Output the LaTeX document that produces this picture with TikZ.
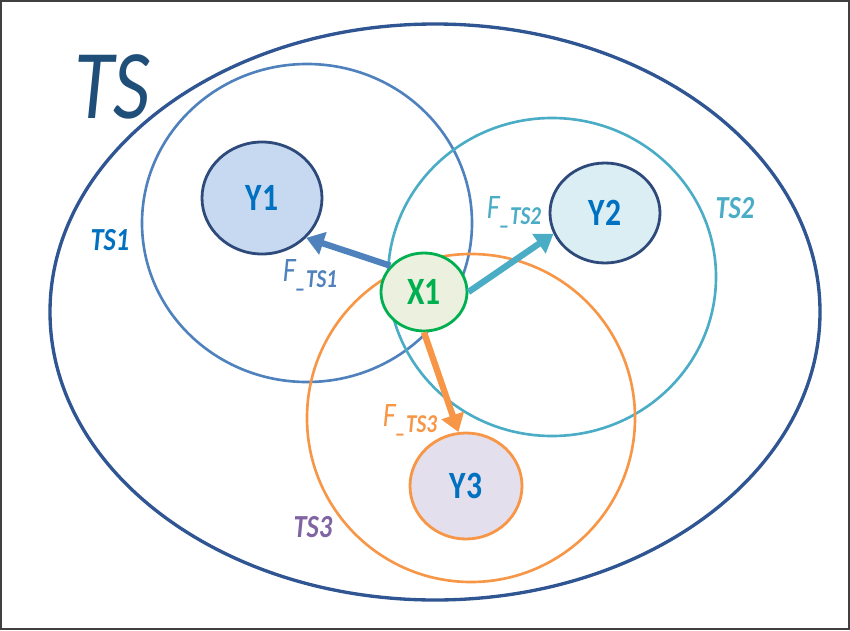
\documentclass[tikz,border=0pt]{standalone}
\usepackage{fontspec}
\setmainfont{Carlito}
\usetikzlibrary{shapes.geometric,arrows.meta}

\definecolor{tsnavy}{HTML}{2F5592}
\definecolor{tstext}{HTML}{1F4E79}
\definecolor{ynavy}{HTML}{2E4A7A}
\definecolor{tsblue}{HTML}{4F81BD}
\definecolor{tsteal}{HTML}{4BACC6}
\definecolor{tsorange}{HTML}{F79646}
\definecolor{tspurple}{HTML}{8064A2}
\definecolor{ytext}{HTML}{0070C0}
\definecolor{xgreen}{HTML}{00B050}
\definecolor{yonefill}{HTML}{C6D9F1}
\definecolor{ytwofill}{HTML}{DAEEF3}
\definecolor{ythreefill}{HTML}{E4DFEC}
\definecolor{xonefill}{HTML}{EBF1DE}

\newcommand{\tall}[1]{\scalebox{1}[1.22]{#1}}
\newcommand{\flowname}[1]{\tall{F\raisebox{-0.35ex}{\fontsize{12}{14}\selectfont\bfseries\_#1}}}

\begin{document}
\begin{tikzpicture}[
        setring/.style={draw, ellipse, line width=1.5pt, inner sep=0pt},
        varnode/.style={draw, ellipse, line width=1.6pt, inner sep=0pt,
            font=\fontsize{18}{20}\selectfont\bfseries, text=ytext},
        flow/.style={line width=3.6pt, -{Triangle[length=10pt, width=13pt]}},
        flowlbl/.style={font=\fontsize{16}{18}\selectfont\itshape}
    ]
        \useasboundingbox (0, 0) rectangle (17, 12.6);
        \draw[line width=1.2pt, black!75] (0.02, 0.02) rectangle (16.98, 12.58);

        % the sets
        \node[setring, tsnavy, line width=1.9pt, minimum width=15.4cm, minimum height=11.52cm] (ts) at (8.7, 6.36) {};
        \node[setring, tsblue, minimum width=6.6cm, minimum height=6.36cm] (ts1) at (6.14, 8.14) {};
        \node[setring, tsteal, minimum width=6.56cm, minimum height=6.36cm] (ts2) at (11.04, 7.06) {};
        \node[setring, tsorange, minimum width=6.56cm, minimum height=6.56cm] (ts3) at (9.42, 4.24) {};

        \node[text=tstext, font=\fontsize{46}{50}\selectfont\itshape] (tslbl) at (2.24, 10.86) {\tall{TS}};
        \node[text=ytext, font=\fontsize{15}{17}\selectfont\bfseries\itshape] (ts1lbl) at (2.2, 7.8) {\tall{TS1}};
        \node[text=tsteal, font=\fontsize{15}{17}\selectfont\bfseries\itshape] (ts2lbl) at (14.7, 8.44) {\tall{TS2}};
        \node[text=tspurple, font=\fontsize{15}{17}\selectfont\bfseries\itshape] (ts3lbl) at (6.26, 2.06) {\tall{TS3}};

        % targets and source
        \node[varnode, draw=ynavy, fill=yonefill, minimum width=2.4cm, minimum height=2.24cm] (y1) at (5.24, 8.64) {\tall{Y1}};
        \node[varnode, draw=ynavy, fill=ytwofill, minimum width=2.2cm, minimum height=2cm] (y2) at (12.1, 8.34) {\tall{Y2}};
        \node[varnode, draw=tsorange, fill=ythreefill, minimum width=2.24cm, minimum height=2.12cm] (y3) at (9.32, 2.88) {\tall{Y3}};
        \node[varnode, draw=xgreen, text=xgreen, fill=xonefill, minimum width=1.72cm, minimum height=1.56cm] (x1) at (8.48, 6.76) {\tall{X1}};

        \draw[flow, tsblue] (x1.142) -- (y1.-42);
        \draw[flow, tsteal] (x1.east) -- (y2.202);
        \draw[flow, tsorange] (x1.south) -- (y3.98);

        \node[flowlbl, text=tsblue] (f1) at (6.2, 7.1) {\flowname{TS1}};
        \node[flowlbl, text=tsteal] (f2) at (10.28, 8.36) {\flowname{TS2}};
        \node[flowlbl, text=tsorange] (f3) at (8.2, 4.2) {\flowname{TS3}};
    \end{tikzpicture}
\end{document}
